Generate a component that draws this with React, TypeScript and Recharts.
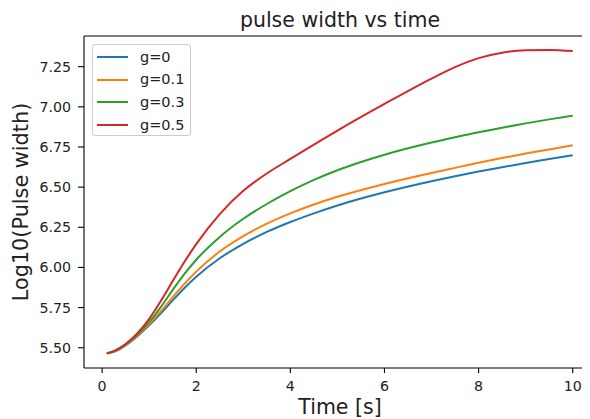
import { LineChart, Line, XAxis, YAxis, Legend, ReferenceLine } from 'recharts';

// time samples [s]
const times = [0.1, 0.25, 0.5, 0.75, 1, 1.25, 1.5, 1.75, 2, 2.5, 3, 3.5, 4, 4.5, 5, 6, 7, 7.5, 8, 8.5, 9, 9.5, 10];

// log10(pulse width) for each g
const g0 = [5.465, 5.475, 5.515, 5.572, 5.64, 5.715, 5.795, 5.872, 5.942, 6.057, 6.147, 6.221, 6.283, 6.337, 6.386, 6.468, 6.537, 6.568, 6.597, 6.624, 6.65, 6.675, 6.699];
const g01 = [5.465, 5.476, 5.517, 5.576, 5.648, 5.728, 5.815, 5.898, 5.974, 6.099, 6.195, 6.273, 6.337, 6.392, 6.44, 6.52, 6.588, 6.62, 6.652, 6.681, 6.709, 6.735, 6.761];
const g03 = [5.465, 5.478, 5.52, 5.582, 5.66, 5.755, 5.86, 5.96, 6.048, 6.19, 6.303, 6.395, 6.475, 6.545, 6.605, 6.702, 6.778, 6.811, 6.842, 6.87, 6.897, 6.922, 6.945];
const g05 = [5.465, 5.479, 5.523, 5.59, 5.68, 5.793, 5.915, 6.035, 6.145, 6.332, 6.477, 6.585, 6.676, 6.765, 6.852, 7.018, 7.176, 7.247, 7.303, 7.337, 7.352, 7.354, 7.347];

const seriesNames = ['g=0', 'g=0.1', 'g=0.3', 'g=0.5'];
const seriesColors = ['#1f77b4', '#ff7f0e', '#2ca02c', '#d62728'];
const seriesValues = [g0, g01, g03, g05];

const xTicks = [0, 2, 4, 6, 8, 10];
const yTicks = [5.5, 5.75, 6.0, 6.25, 6.5, 6.75, 7.0, 7.25];

const data = times.map((t, i) => {
    const row: any = { t };
    seriesNames.forEach((name, s) => {
        row[name] = seriesValues[s][i];
    });
    return row;
});

const FONT = 'DejaVu Sans';
const TEXT = '#222';
const xDomain = [-0.385, 10.495];
const yDomain = [5.374, 7.441];

const LegendBox = ({ payload }: any) => (
    <div
        style={{
            border: '1px solid #cccccc',
            borderRadius: 3,
            background: 'rgba(255,255,255,0.8)',
            width: 99,
            height: 92,
            boxSizing: 'border-box',
            paddingTop: 0.5,
            fontFamily: FONT,
            fontSize: 14.5,
            color: TEXT,
        }}
    >
        {(payload || []).map((entry: any) => (
            <div key={entry.value} style={{ display: 'flex', alignItems: 'center', height: 22.7 }}>
                <div style={{ width: 31.6, height: 2, marginLeft: 3.7, background: entry.color }} />
                <span style={{ marginLeft: 11.7, lineHeight: '22.7px' }}>{entry.value}</span>
            </div>
        ))}
    </div>
);

const App = () => {
    return (
        <div style={{ position: 'relative', margin: '-8px 0 0 -8px', width: 590, height: 419, overflow: 'hidden', background: '#fff' }}>
            <LineChart width={600} height={419} data={data} margin={{ top: 36, right: 4, bottom: 0, left: 0 }}>
                <XAxis
                    dataKey="t"
                    type="number"
                    domain={xDomain}
                    ticks={xTicks}
                    height={51}
                    tickSize={5}
                    tickMargin={8}
                    allowDataOverflow
                    axisLine={{ stroke: '#000', strokeWidth: 1.1 }}
                    tickLine={{ stroke: '#000', strokeWidth: 1.1 }}
                    tick={{ fill: TEXT, fontSize: 14.2, fontFamily: FONT }}
                    label={(props: any) => {
                        const vb = props.viewBox;
                        return (
                            <text x={vb.x + vb.width / 2} y={vb.y + 46} textAnchor="middle" fontSize={20.5} fontFamily={FONT} fill={TEXT}>
                                Time [s]
                            </text>
                        );
                    }}
                />
                <YAxis
                    type="number"
                    domain={yDomain}
                    ticks={yTicks}
                    width={84}
                    tickSize={6}
                    tickMargin={7}
                    allowDataOverflow
                    tickFormatter={(v: number) => v.toFixed(2)}
                    axisLine={{ stroke: '#000', strokeWidth: 1.1 }}
                    tickLine={{ stroke: '#000', strokeWidth: 1.1 }}
                    tick={{ fill: TEXT, fontSize: 14.2, fontFamily: FONT }}
                    label={(props: any) => {
                        const vb = props.viewBox;
                        const cy = vb.y + vb.height / 2;
                        return (
                            <text x={28} y={cy} transform={`rotate(-90, 28, ${cy})`} textAnchor="middle" fontSize={20.8} fontFamily={FONT} fill={TEXT}>
                                Log10(Pulse width)
                            </text>
                        );
                    }}
                />
                {/* top spine + title */}
                <ReferenceLine
                    y={yDomain[1]}
                    stroke="#000"
                    strokeWidth={1.1}
                    ifOverflow="extendDomain"
                    label={(props: any) => {
                        const vb = props.viewBox;
                        return (
                            <text x={vb.x + vb.width / 2} y={vb.y - 9} textAnchor="middle" fontSize={20.5} fontFamily={FONT} fill={TEXT}>
                                pulse width vs time
                            </text>
                        );
                    }}
                />
                <Legend
                    layout="vertical"
                    align="center"
                    verticalAlign="middle"
                    wrapperStyle={{ position: 'absolute', left: 92, top: 44, width: 'auto', height: 'auto' }}
                    content={<LegendBox />}
                />
                {seriesNames.map((name, i) => (
                    <Line
                        key={name}
                        type="monotone"
                        dataKey={name}
                        name={name}
                        stroke={seriesColors[i]}
                        strokeWidth={2}
                        dot={false}
                        activeDot={false}
                        isAnimationActive={false}
                    />
                ))}
            </LineChart>
        </div>
    );
};

export default App;
